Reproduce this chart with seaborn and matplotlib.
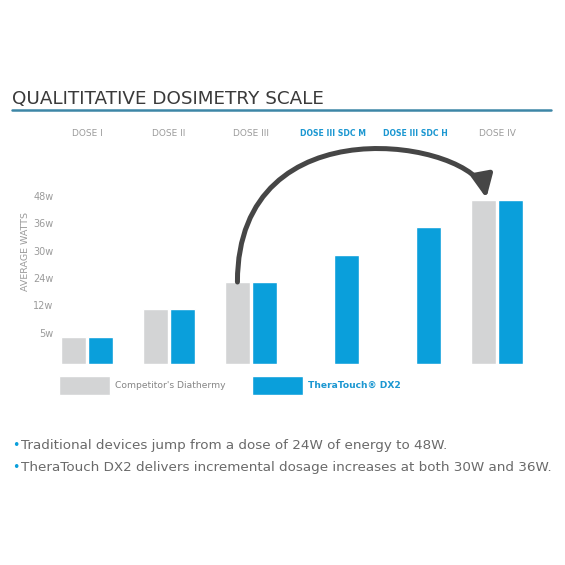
import numpy as np
import pandas as pd
import seaborn as sns
import matplotlib.pyplot as plt
from matplotlib.patches import FancyArrowPatch
from matplotlib.path import Path
from matplotlib.lines import Line2D

# data
doses = ["DOSE I", "DOSE II", "DOSE III", "DOSE III SDC M", "DOSE III SDC H", "DOSE IV"]
competitor = [5, 12, 24, np.nan, np.nan, 48]
theratouch = [5, 12, 24, 30, 36, 48]
watt_ticks = [5, 12, 24, 30, 36, 48]
watt_labels = ["5w", "12w", "24w", "30w", "36w", "48w"]
series = ["Competitor's Diathermy", "TheraTouch\u00ae DX2"]
highlight = ["DOSE III SDC M", "DOSE III SDC H"]
notes = ["Traditional devices jump from a dose of 24W of energy to 48W.",
         "TheraTouch DX2 delivers incremental dosage increases at both 30W and 36W."]

GRAY = "#d3d4d5"
BLUE = "#0a9fdb"
TEXT_BLUE = "#1b97d1"
LABEL_GRAY = "#9b9b9b"

sns.set_theme(style="white")
plt.rcParams["font.family"] = ["DejaVu Sans"]

df = pd.DataFrame({"dose": doses, series[0]: competitor, series[1]: theratouch})
long_df = df.melt(id_vars="dose", var_name="device", value_name="watts").dropna()

# the watt axis is ordinal: every tick is one equal step
W = np.array([0] + watt_ticks, float)
L = np.arange(len(W), dtype=float)


def fwd(w):
    w = np.asarray(w, float)
    return np.where(w > W[-1], L[-1] + (w - W[-1]) / 12, np.interp(w, W, L))


def inv(l):
    l = np.asarray(l, float)
    return np.where(l > L[-1], W[-1] + (l - L[-1]) * 12, np.interp(l, L, W))


fig = plt.figure(figsize=(5.65, 5.65), dpi=100)
ax = fig.add_axes([59 / 565, 1 - 364 / 565, 479 / 565, 164 / 565])

sns.barplot(data=long_df, x="dose", y="watts", hue="device", order=doses,
            hue_order=series, palette=[GRAY, BLUE], width=0.65, gap=0.07,
            saturation=1, errorbar=None, ax=ax)

ax.set_yscale("function", functions=(fwd, inv))
ax.set_ylim(0, 48)
ax.set_xlim(-0.341, 5.5)
ax.set_yticks(watt_ticks, watt_labels)
ax.set_xlabel("")
ax.set_ylabel("")
for s in ax.spines.values():
    s.set_visible(False)

ax.xaxis.set_ticks_position("top")
ax.tick_params(axis="x", length=0, pad=45, labelsize=6.5, labelcolor=LABEL_GRAY)
ax.tick_params(axis="y", length=0, pad=4, labelsize=7, labelcolor=LABEL_GRAY)
for t in ax.get_yticklabels():
    t.set_verticalalignment("baseline")
for t in ax.get_xticklabels():
    if t.get_text() in highlight:
        t.set_color(TEXT_BLUE)
        t.set_fontweight("bold")
        t.set_fontsize(5.6)

# jump arrow from dose III to dose IV (competitor)
off = 0.165
verts = [(2 - off, competitor[2]), (2 - off, 92), (4.74, 74), (4.87, 48.8)]
arrow = FancyArrowPatch(path=Path(verts, [Path.MOVETO, Path.CURVE4, Path.CURVE4, Path.CURVE4]),
                        arrowstyle="-|>,head_length=0.68,head_width=0.32", mutation_scale=20,
                        color="#464646", lw=3.6, transform=ax.transData, clip_on=False, zorder=5)
ax.add_patch(arrow)

sns.move_legend(ax, "upper left", bbox_to_anchor=(59 / 565, 1 - 376 / 565),
                bbox_transform=fig.transFigure, ncol=2, frameon=False, title=None,
                fontsize=6.6, handlelength=5.56, handleheight=2.81, handletextpad=0.5,
                columnspacing=2.95, borderpad=0, borderaxespad=0)
leg = ax.get_legend()
leg.get_texts()[0].set_color("#858585")
leg.get_texts()[1].set_color(TEXT_BLUE)
leg.get_texts()[1].set_fontweight("bold")

fig.text(12 / 565, 1 - 104 / 565, "QUALITITATIVE DOSIMETRY SCALE", fontsize=13.2,
         color="#3a3a3a", va="baseline")
fig.add_artist(Line2D([12 / 565, 551 / 565], [1 - 109.5 / 565] * 2, color="#3d86a6", lw=1.8))
fig.text(26 / 565, 1 - 252 / 565, "AVERAGE WATTS", rotation=90, fontsize=6.8,
         color=LABEL_GRAY, ha="center", va="center")

for i, note in enumerate(notes):
    y = 1 - (445 + 22.5 * i) / 565
    fig.text(12 / 565, y, "\u2022", fontsize=9, color=BLUE, va="center")
    fig.text(21 / 565, y, note, fontsize=9.7, color="#6a6a6a", va="center")

fig.savefig("out.png", dpi=100, facecolor="white")
